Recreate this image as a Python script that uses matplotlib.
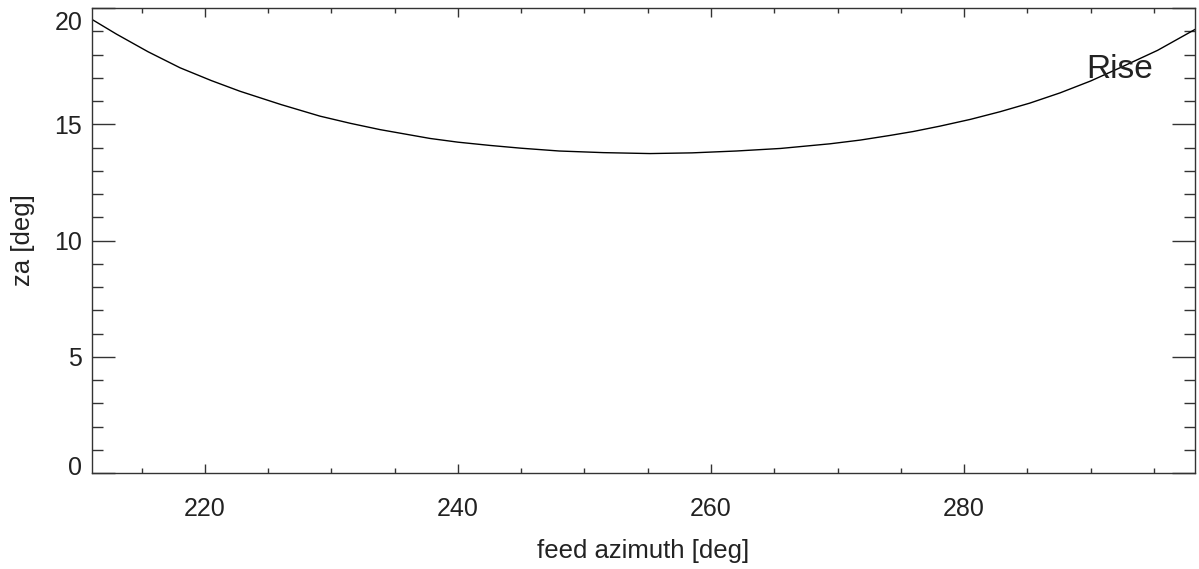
import matplotlib
matplotlib.use("Agg")
import matplotlib.pyplot as plt
from matplotlib.ticker import MultipleLocator
import matplotlib.transforms as mtransforms

plt.rcParams['font.family'] = ['Liberation Sans', 'DejaVu Sans']

azimuth = [211.07, 213.0, 215.5, 218.03, 220.5, 222.77, 226.0, 229.09, 231.5,
           233.84, 237.79, 240.0, 242.53, 245.0, 248.0, 251.5, 255.18, 258.5,
           262.0, 265.5, 269.41, 271.8, 274.15, 276.0, 278.10, 280.5, 282.85,
           285.2, 287.59, 290.0, 292.33, 295.3, 298.26]
za = [19.51, 18.88, 18.12, 17.43, 16.88, 16.42, 15.85, 15.35, 15.04,
      14.77, 14.39, 14.23, 14.09, 13.97, 13.85, 13.78, 13.74, 13.77,
      13.85, 13.96, 14.16, 14.32, 14.52, 14.69, 14.92, 15.21, 15.54,
      15.91, 16.35, 16.86, 17.43, 18.18, 19.08]

xlim = (211.07, 298.26)
ylim = (0, 20)
label_text = "Rise"
label_pos = (289.7, 17.0)

fig = plt.figure(figsize=(11.99, 5.69), dpi=100)
ax = fig.add_axes([0.0767, 0.1687, 0.92, 0.8172])
ax.plot(azimuth, za, color='black', lw=1.0)
ax.set_xlim(*xlim)
ax.set_ylim(*ylim)
ax.xaxis.set_major_locator(MultipleLocator(20))
ax.xaxis.set_minor_locator(MultipleLocator(5))
ax.yaxis.set_major_locator(MultipleLocator(5))
ax.yaxis.set_minor_locator(MultipleLocator(1))
ax.tick_params(axis='both', which='both', direction='in', top=True, right=True,
               colors='#333333', width=1.0, labelcolor='#222222', labelsize=18)
ax.tick_params(axis='x', which='major', length=6.5, pad=17)
ax.tick_params(axis='x', which='minor', length=3.4)
ax.tick_params(axis='y', which='major', length=16.3, pad=7)
ax.tick_params(axis='y', which='minor', length=8)
for s in ax.spines.values():
    s.set_color('#333333')
    s.set_linewidth(1.0)
ax.set_xlabel('feed azimuth [deg]', fontsize=18.5, color='#222222', labelpad=13)
ax.set_ylabel('za [deg]', fontsize=18.5, color='#222222', labelpad=14)
ax.text(label_pos[0], label_pos[1], label_text, fontsize=24, color='#222222',
        ha='left', va='baseline')

# shift the end y tick labels inward like the reference
fig.canvas.draw()
for lbl in ax.get_yticklabels():
    txt = lbl.get_text()
    if txt == '20':
        lbl.set_transform(lbl.get_transform() +
                          mtransforms.ScaledTranslation(0, -12 / 100, fig.dpi_scale_trans))
    elif txt == '0':
        lbl.set_transform(lbl.get_transform() +
                          mtransforms.ScaledTranslation(0, 8 / 100, fig.dpi_scale_trans))
fig.savefig('out.png', dpi=100)
